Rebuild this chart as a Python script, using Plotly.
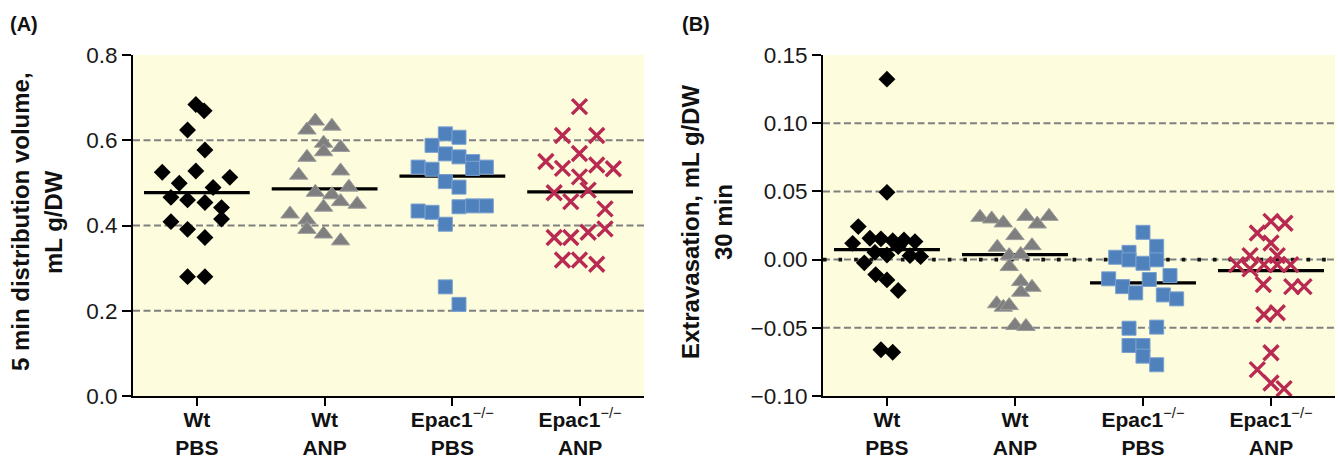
import plotly.graph_objects as go

# ---------------- data ----------------
CATEGORIES = ["Wt PBS", "Wt ANP", "Epac1-/- PBS", "Epac1-/- ANP"]
TICK_TEXT = [
    "<b>Wt</b><br><b>PBS</b>",
    "<b>Wt</b><br><b>ANP</b>",
    "<b>Epac1</b><sup>−/−</sup><br><b>PBS</b>",
    "<b>Epac1</b><sup>−/−</sup><br><b>ANP</b>",
]

# Panel A: 5 min distribution volume (mL g/DW)
A_WT_PBS = [0.684, 0.669, 0.624, 0.577, 0.525, 0.528, 0.513, 0.499, 0.489, 0.466,
            0.460, 0.454, 0.442, 0.415, 0.409, 0.391, 0.372, 0.280, 0.280]
A_WT_ANP = [0.645, 0.633, 0.624, 0.593, 0.583, 0.573, 0.560, 0.528, 0.518, 0.490,
            0.478, 0.472, 0.456, 0.450, 0.443, 0.427, 0.413, 0.391, 0.380, 0.364]
A_EPAC_PBS = [0.615, 0.607, 0.588, 0.568, 0.561, 0.550, 0.537, 0.532, 0.534, 0.537,
              0.503, 0.490, 0.434, 0.431, 0.444, 0.446, 0.446, 0.403, 0.256, 0.215]
A_EPAC_ANP = [0.679, 0.611, 0.611, 0.569, 0.550, 0.534, 0.542, 0.533, 0.514, 0.483,
              0.477, 0.456, 0.439, 0.384, 0.392, 0.372, 0.372, 0.319, 0.319, 0.309]
A_MEANS = [0.477, 0.486, 0.516, 0.479]

# Panel B: extravasation 30 min (mL g/DW)
B_WT_PBS = [0.1323, 0.0493, 0.0242, 0.0119, 0.0156, 0.0152, 0.0139, 0.0144, 0.0132, 0.0095,
            0.0053, 0.0034, 0.0029, 0.0022, -0.0024, -0.0110, -0.0149, -0.0227, -0.0661, -0.0679]
B_WT_ANP = [0.0310, 0.0298, 0.0269, 0.0317, 0.0261, 0.0317, 0.0176, 0.0090, 0.0102, 0.0029,
            0.0037, -0.0051, -0.0161, -0.0203, -0.0239, -0.0324, -0.0349, -0.0337, -0.0483, -0.0490]
B_EPAC_PBS = [0.0200, 0.0097, 0.0053, 0.0017, -0.0002, -0.0027, -0.0002, -0.0141, -0.0198, -0.0146,
              -0.0117, -0.0244, -0.0259, -0.0288, -0.0503, -0.0495, -0.0630, -0.0630, -0.0708, -0.0771]
B_EPAC_ANP = [0.0280, 0.0266, 0.0195, 0.0122, 0.0029, 0.0029, -0.0037, -0.0068, -0.0037, -0.0037,
              -0.0037, -0.0183, -0.0198, -0.0198, -0.0403, -0.0390, -0.0683, -0.0807, -0.0905, -0.0946]
B_MEANS = [0.0073, 0.0037, -0.0171, -0.0081]

A_TICKS = [0.0, 0.2, 0.4, 0.6, 0.8]
A_GRID = [0.2, 0.4, 0.6]
B_TICKS = [-0.10, -0.05, 0.0, 0.05, 0.10, 0.15]
B_GRID = [-0.05, 0.0, 0.05, 0.10]

# ---------------- scatter (beeswarm) horizontal offsets, in category units ----------------
J_A_WT_PBS = [-0.008, 0.057, -0.073, 0.063, -0.271, -0.008, 0.258, -0.138, 0.127, -0.203,
              -0.073, 0.063, 0.193, 0.193, -0.203, -0.073, 0.063, -0.073, 0.063]
J_A_WT_ANP = [-0.073, 0.057, -0.138, -0.008, 0.125, -0.008, -0.138, 0.125, -0.203, 0.190,
              -0.073, 0.057, 0.125, 0.255, -0.008, -0.271, -0.138, -0.138, -0.008, 0.125]
J_A_EPAC_PBS = [-0.055, 0.052, -0.159, -0.055, 0.052, 0.159, -0.268, -0.159, 0.159, 0.266,
                -0.055, 0.052, -0.268, -0.159, 0.052, 0.159, 0.266, -0.055, -0.055, 0.052]
J_A_EPAC_ANP = [-0.005, -0.138, 0.130, -0.005, -0.268, -0.138, 0.130, 0.260, -0.005, 0.063,
                -0.203, -0.073, 0.195, 0.063, 0.195, -0.203, -0.073, -0.138, -0.005, 0.130]
J_B_WT_PBS = [0.0, 0.0, -0.224, -0.268, -0.133, -0.047, 0.045, 0.133, 0.219, 0.088,
              -0.094, 0.0, 0.180, 0.263, -0.177, -0.088, 0.0, 0.088, -0.047, 0.045]
J_B_WT_ANP = [-0.273, -0.182, -0.091, 0.086, 0.174, 0.266, 0.0, -0.138, 0.133, -0.045,
              0.045, -0.045, 0.045, 0.133, 0.045, -0.143, -0.091, -0.045, 0.0, 0.086]
J_B_EPAC_PBS = [0.0, 0.107, -0.109, -0.213, -0.109, 0.0, 0.107, -0.268, -0.159, 0.049,
                0.211, -0.057, 0.159, 0.263, -0.109, 0.107, -0.109, 0.0, 0.0, 0.107]
J_B_EPAC_ANP = [0.0, 0.109, -0.107, 0.0, -0.164, 0.049, -0.268, -0.164, -0.055, 0.049,
                0.154, -0.060, 0.162, 0.258, -0.055, 0.049, 0.0, -0.107, 0.0, 0.102]

# ---------------- styles ----------------
STYLES = [
    dict(symbol="diamond", size=13, color="#000000", line=dict(width=0)),
    dict(symbol="triangle-up", size=16, color="#7f7f7f", line=dict(width=1, color="#9c9c9c")),
    dict(symbol="square", size=14, color="#4f81bd", line=dict(width=1, color="#7ba1cf")),
    dict(symbol="x-thin", size=15, color="#b92a52", line=dict(width=3.4, color="#b92a52")),
]
FONT = "Liberation Sans, Arial, Helvetica, sans-serif"
BG = "#fdfcdc"
GRID_COLOR = "#808080"
HALF_W = 0.414

fig = go.Figure()

panels = [
    ("x", "y", [A_WT_PBS, A_WT_ANP, A_EPAC_PBS, A_EPAC_ANP],
     [J_A_WT_PBS, J_A_WT_ANP, J_A_EPAC_PBS, J_A_EPAC_ANP], A_MEANS),
    ("x2", "y2", [B_WT_PBS, B_WT_ANP, B_EPAC_PBS, B_EPAC_ANP],
     [J_B_WT_PBS, J_B_WT_ANP, J_B_EPAC_PBS, J_B_EPAC_ANP], B_MEANS),
]

for xa, ya, groups, jitters, means in panels:
    # mean lines
    for i, m in enumerate(means):
        fig.add_trace(go.Scatter(x=[i - HALF_W, i + HALF_W], y=[m, m], mode="lines",
                                 line=dict(color="#000000", width=3.2),
                                 xaxis=xa, yaxis=ya, showlegend=False, hoverinfo="skip"))
    for i, (vals, jit) in enumerate(zip(groups, jitters)):
        st = STYLES[i]
        fig.add_trace(go.Scatter(
            x=[i + j for j in jit], y=vals, mode="markers",
            marker=dict(symbol=st["symbol"], size=st["size"], color=st["color"], line=st["line"]),
            xaxis=xa, yaxis=ya, showlegend=False, name=CATEGORIES[i]))

# gridlines
shapes = []
for g in A_GRID:
    shapes.append(dict(type="line", xref="x domain", yref="y", x0=0, x1=1, y0=g, y1=g,
                       line=dict(color=GRID_COLOR, width=2, dash="7px,3.5px"), layer="below"))
for g in B_GRID:
    shapes.append(dict(type="line", xref="x2 domain", yref="y2", x0=0, x1=1, y0=g, y1=g,
                       line=dict(color=GRID_COLOR, width=2, dash="7px,3.5px"), layer="below"))
# dotted zero reference in panel B
shapes.append(dict(type="line", xref="x2 domain", yref="y2", x0=0, x1=1, y0=0, y1=0,
                   line=dict(color="#111111", width=3.6, dash="3.6px,12px"), layer="below"))

common_x = dict(range=[-0.5, 3.5], tickvals=[0, 1, 2, 3], ticktext=TICK_TEXT,
                showline=True, linecolor="#000000", linewidth=2, ticks="outside",
                ticklen=8, tickwidth=2, tickcolor="#000000", showgrid=False, zeroline=False,
                automargin=False, ticklabelstandoff=-4,
                tickfont=dict(family=FONT, size=21, color="#111111"), fixedrange=True)
common_y = dict(showline=True, linecolor="#000000", linewidth=2, ticks="outside",
                ticklen=9, tickwidth=2, tickcolor="#000000", showgrid=False, zeroline=False,
                automargin=False,
                tickfont=dict(family=FONT, size=22.5, color="#1a1a1a"), fixedrange=True)

fig.update_layout(
    width=1338, height=460,
    margin=dict(l=133, r=3, t=55, b=64, autoexpand=False),
    paper_bgcolor="#ffffff", plot_bgcolor=BG,
    font=dict(family=FONT, color="#111111"),
    xaxis=dict(domain=[0, 0.4251], anchor="y", **common_x),
    xaxis2=dict(domain=[0.5740, 1.0], anchor="y2", **common_x),
    yaxis=dict(domain=[0, 1], anchor="x", range=[0, 0.8], tickvals=A_TICKS,
               tickformat=".1f", **common_y),
    yaxis2=dict(domain=[0, 1], anchor="x2", range=[-0.10, 0.15], tickvals=B_TICKS,
                tickformat=".2f", **common_y),
    shapes=shapes,
    showlegend=False,
)

tfont = dict(family=FONT, size=24, color="#111111")
annotations = [
    dict(text="<b>5 min distribution volume,</b>", x=-0.0940, y=0.51),
    dict(text="<b>mL g/DW</b>", x=-0.0666, y=0.51),
    dict(text="<b>Extravasation, mL g/DW</b>", x=0.4634, y=0.51),
    dict(text="<b>30 min</b>", x=0.4908, y=0.51),
]
for a in annotations:
    fig.add_annotation(xref="paper", yref="paper", textangle=-90, showarrow=False,
                       xanchor="center", yanchor="middle", font=tfont, **a)
fig.add_annotation(text="<b>(A)</b>", xref="paper", yref="paper", x=-0.0903, y=1.092,
                   showarrow=False, xanchor="center", yanchor="middle",
                   font=dict(family=FONT, size=20, color="#111111"))
fig.add_annotation(text="<b>(B)</b>", xref="paper", yref="paper", x=0.468, y=1.091,
                   showarrow=False, xanchor="center", yanchor="middle",
                   font=dict(family=FONT, size=20, color="#111111"))

fig.write_html(
    "out.html",
    config={"displayModeBar": False},
    post_script="document.documentElement.style.margin='0';document.body.style.margin='0';"
                "document.body.style.padding='0';document.body.style.overflow='hidden';",
)
